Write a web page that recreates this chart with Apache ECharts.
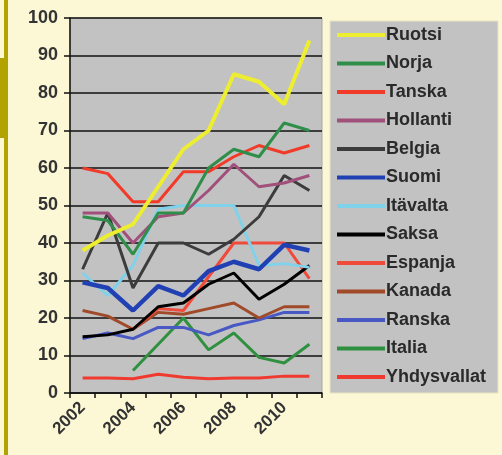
<!DOCTYPE html>
<html><head><meta charset="utf-8">
<script src="https://cdn.jsdelivr.net/npm/echarts@6/dist/echarts.min.js"></script>
<style>html,body{margin:0;padding:0;background:#fcf8d6;}#c{width:502px;height:455px;}</style>
</head><body><div id="c"></div>
<script>
var years = ['2002','2003','2004','2005','2006','2007','2008','2009','2010','2011'];
var yTicks = [0,10,20,30,40,50,60,70,80,90,100];
var names = ['Ruotsi','Norja','Tanska','Hollanti','Belgia','Suomi','Itävalta','Saksa','Espanja','Kanada','Ranska','Italia','Yhdysvallat'];
var ruotsi      = [38, 42, 45, 55, 65, 70, 85, 83, 77, 94];
var norja       = [47, 46, 37, 48, 48, 60, 65, 63, 72, 70];
var tanska      = [60, 58.5, 51, 51, 59, 59, 63, 66, 64, 66];
var hollanti    = [48, 48, 40, 47, 48, 54, 61, 55, 56, 58];
var belgia      = [33, 48, 28, 40, 40, 37, 41, 47, 58, 54];
var suomi       = [29.5, 28, 22, 28.5, 26, 32.5, 35, 33, 39.5, 38];
var itavalta    = [32, 26, 34, 49, 50, 50, 50, 34, 34.5, 33.5];
var saksa       = [15, 15.5, 17, 23, 24, 29, 32, 25, 29, 34];
var espanja     = ['-', '-', 17, 22.5, 22, 31, 40, 40, 40, 30.5];
var kanada      = [22, 20.5, 17, 21.5, 21, 22.5, 24, 20, 23, 23];
var ranska      = [14.5, 16, 14.5, 17.5, 17.5, 15.5, 18, 19.5, 21.5, 21.5];
var italia      = ['-', '-', 6, 13, 20, 11.5, 16, 9.5, 8, 13];
var yhdysvallat = [4, 4, 3.8, 5, 4.2, 3.8, 4, 4, 4.5, 4.5];

var values = [ruotsi, norja, tanska, hollanti, belgia, suomi, itavalta, saksa, espanja, kanada, ranska, italia, yhdysvallat];
var colors = ['#eeee30','#2f8f4a','#f23a28','#a0507a','#3c3c3c','#2040b4','#80d2ea','#000000','#f04a3a','#a04a2a','#4858c4','#2f9040','#f03a30'];
var widths = [4, 3, 3, 3, 3, 4.5, 3, 3, 3, 3, 3, 3, 3];

var series = names.map(function(n, i){
  return {name: n, type: 'line', data: values[i], symbol: 'none', color: colors[i],
    lineStyle: {width: widths[i], color: colors[i]}, z: 20 - i};
});

var font = 'Liberation Sans, Arial, sans-serif';
var chart = echarts.init(document.getElementById('c'), null, {renderer: 'canvas'});
chart.setOption({
  backgroundColor: '#fcf8d6',
  animation: false,
  graphic: [
    {type: 'rect', shape: {x: 4, y: 0, width: 4, height: 455}, style: {fill: '#b3a300'}, z: 1},
    {type: 'rect', shape: {x: 0, y: 58, width: 4, height: 80}, style: {fill: '#b3a300'}, z: 1},
    {type: 'rect', shape: {x: 330, y: 21, width: 168, height: 372}, style: {fill: '#c2c2c2', stroke: '#e8e4c0', lineWidth: 1}, z: 0}
  ],
  grid: {left: 70, top: 18, width: 252, height: 375, show: true, backgroundColor: '#c2c2c2', borderWidth: 1, borderColor: '#a8a8a0'},
  legend: {
    orient: 'vertical', left: 337, top: 25, data: names,
    icon: 'rect', itemWidth: 48, itemHeight: 4, itemGap: 8.5,
    textStyle: {fontFamily: font, fontSize: 18, fontWeight: 'bold', color: '#2a2a2a', lineHeight: 20, padding: [0,0,0,-4]},
    padding: 0
  },
  xAxis: {
    type: 'category', data: years, boundaryGap: true,
    axisLine: {show: true, lineStyle: {color: '#111', width: 1.5}},
    axisTick: {show: true, inside: false, length: 5, interval: 0, lineStyle: {color: '#111', width: 1.5}},
    axisLabel: {interval: 1, rotate: 45, fontFamily: font, fontSize: 17, fontWeight: 'bold', color: '#333', margin: 12},
    splitLine: {show: false}
  },
  yAxis: {
    type: 'value', min: 0, max: 100, interval: 10,
    axisLine: {show: true, lineStyle: {color: '#111', width: 1.5}},
    axisTick: {show: true, inside: false, length: 6, lineStyle: {color: '#111', width: 1.5}},
    axisLabel: {fontFamily: font, fontSize: 18, fontWeight: 'bold', color: '#333', margin: 12,
      formatter: function(v){ return yTicks.indexOf(v) >= 0 ? String(v) : ''; }},
    splitLine: {show: true, lineStyle: {color: '#111', width: 1.5}}
  },
  series: series
});
</script></body></html>
